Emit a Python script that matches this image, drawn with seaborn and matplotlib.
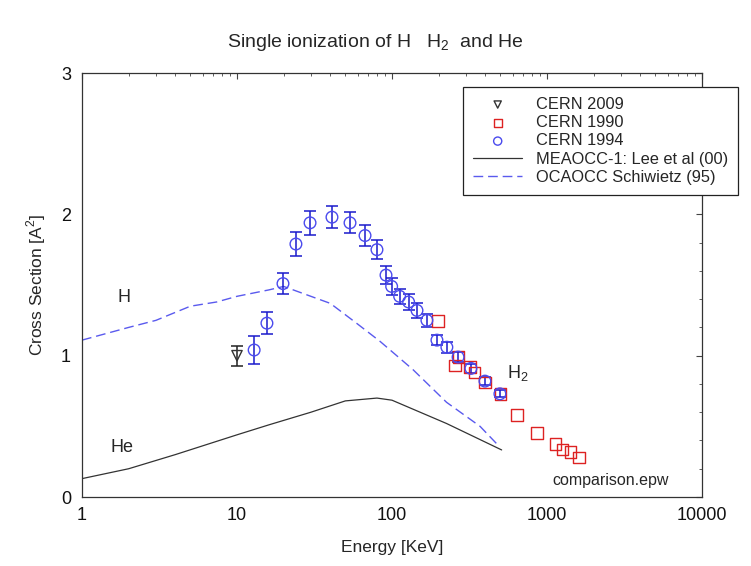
import numpy as np
import pandas as pd
import matplotlib
matplotlib.use("Agg")
import matplotlib.pyplot as plt
import seaborn as sns

# ---- data ----
cern2009_E = [10.0]
cern2009_s = [1.00]
cern2009_err = [0.07]

cern1990_E = [199, 255, 268, 319, 340, 400, 502, 643, 865, 1132, 1262, 1421, 1616]
cern1990_s = [1.245, 0.93, 0.99, 0.918, 0.88, 0.81, 0.73, 0.58, 0.455, 0.375, 0.337, 0.32, 0.28]

cern1994_E = [12.9, 15.6, 19.8, 24.0, 29.6, 41.0, 53.6, 67, 80, 91.5, 99.5, 112, 128, 145, 168, 195, 226, 267, 323, 398, 497]
cern1994_s = [1.04, 1.23, 1.51, 1.79, 1.94, 1.98, 1.94, 1.85, 1.75, 1.57, 1.49, 1.42, 1.38, 1.32, 1.25, 1.11, 1.06, 0.99, 0.91, 0.82, 0.73]
cern1994_err = [0.10, 0.08, 0.077, 0.083, 0.083, 0.078, 0.075, 0.073, 0.068, 0.061, 0.06, 0.055,
                0.054, 0.05, 0.047, 0.038, 0.039, 0.038, 0.032, 0.027, 0.025]

lee_E = [1, 2, 4, 10, 16, 30, 50, 80, 100, 225, 510]
lee_s = [0.13, 0.20, 0.30, 0.44, 0.51, 0.60, 0.68, 0.70, 0.685, 0.52, 0.333]

schiw_E = [1, 2, 3, 5, 7.4, 10, 16, 20, 40, 59, 84, 137, 225, 370, 490]
schiw_s = [1.11, 1.20, 1.25, 1.35, 1.38, 1.42, 1.465, 1.49, 1.37, 1.23, 1.10, 0.90, 0.67, 0.50, 0.36]

x_ticks = [1, 10, 100, 1000, 10000]
x_ticklabels = ["1", "10", "100", "1000", "10000"]
y_ticks = [0, 1, 2, 3]

sns.set_style("white")
plt.rcParams['font.family'] = ['Liberation Sans', 'DejaVu Sans']
plt.rcParams['mathtext.fontset'] = 'custom'
plt.rcParams['mathtext.rm'] = 'Liberation Sans'

fig = plt.figure(figsize=(7.51, 5.66), dpi=100)
ax = fig.add_axes([0.1092, 0.1219, 0.8255, 0.7491])

df_lee = pd.DataFrame({"E": lee_E, "s": lee_s})
df_sch = pd.DataFrame({"E": schiw_E, "s": schiw_s})
sns.lineplot(data=df_lee, x="E", y="s", ax=ax, color="#333333", lw=0.9, sort=False,
             label="MEAOCC-1: Lee et al (00)", legend=False)
sns.lineplot(data=df_sch, x="E", y="s", ax=ax, color="#5a5aee", lw=1.0, sort=False,
             dashes=False, label="OCAOCC Schiwietz (95)", legend=False)
ax.lines[-1].set_dashes([7, 3.5])

ax.errorbar(cern2009_E, cern2009_s, yerr=cern2009_err, fmt="none", ecolor="#222222",
            elinewidth=1.1, capsize=4, capthick=1.1, zorder=3)
ax.errorbar(cern1994_E, cern1994_s, yerr=cern1994_err, fmt="none", ecolor="#1a1acc",
            elinewidth=1.1, capsize=4, capthick=1.1, zorder=3)

df09 = pd.DataFrame({"E": cern2009_E, "s": cern2009_s})
df90 = pd.DataFrame({"E": cern1990_E, "s": cern1990_s})
df94 = pd.DataFrame({"E": cern1994_E, "s": cern1994_s})
sns.scatterplot(data=df09, x="E", y="s", ax=ax, marker="v", s=55, facecolor="none",
                edgecolor="#333333", linewidth=1.0, zorder=4, label="CERN 2009", legend=False)
sns.scatterplot(data=df90, x="E", y="s", ax=ax, marker="s", s=70, facecolor="none",
                edgecolor="#dd2222", linewidth=1.0, zorder=4, label="CERN 1990", legend=False)
sns.scatterplot(data=df94, x="E", y="s", ax=ax, marker="o", s=70, facecolor="none",
                edgecolor="#4a4aee", linewidth=1.0, zorder=5, label="CERN 1994", legend=False)

ax.set_xscale("log")
ax.set_xlim(1, 10000)
ax.set_ylim(0, 3)
ax.set_xticks(x_ticks)
ax.set_xticklabels(x_ticklabels)
ax.set_yticks(y_ticks)
ax.yaxis.set_minor_locator(matplotlib.ticker.MultipleLocator(0.2))
ax.xaxis.set_minor_locator(matplotlib.ticker.LogLocator(base=10, subs=np.arange(2, 10)))
ax.xaxis.set_minor_formatter(matplotlib.ticker.NullFormatter())
ax.tick_params(which="both", direction="in", top=True, right=True, colors="#444444",
               labelcolor="#111111", labelsize=13)
ax.tick_params(axis="x", which="major", pad=7)
ax.tick_params(axis="y", which="major", pad=8)
ax.tick_params(which="major", length=4, width=0.8)
ax.tick_params(which="minor", length=2.5, width=0.6)
for sp in ax.spines.values():
    sp.set_color("#333333")
    sp.set_linewidth(0.9)

ax.set_xlabel("Energy [KeV]", fontsize=12.5, labelpad=12)
ax.set_ylabel("Cross Section [A$^2$]", fontsize=12.5, labelpad=9)
fig.text(0.5, 0.925, "Single ionization of H   H$_2$  and He", ha="center", va="center",
         fontsize=14)

ax.text(1.87, 1.41, "H", fontsize=13, ha="center", va="center")
ax.text(1.81, 0.35, "He", fontsize=13, ha="center", va="center")
ax.text(650, 0.88, "H$_2$", fontsize=13, ha="center", va="center")
ax.text(2590, 0.12, "comparison.epw", fontsize=11.5, ha="center", va="center")

h, l = ax.get_legend_handles_labels()
order = ["CERN 2009", "CERN 1990", "CERN 1994", "MEAOCC-1: Lee et al (00)", "OCAOCC Schiwietz (95)"]
hd = dict(zip(l, h))
leg = ax.legend([hd[k] for k in order], order, loc="upper left",
                bbox_to_anchor=(0.615, 0.967), fontsize=11.8, frameon=True, fancybox=False,
                handlelength=3.0, labelspacing=0.2, borderpad=0.6, handletextpad=0.85,
                borderaxespad=0, markerscale=0.7)
leg.get_frame().set_edgecolor("#222222")
leg.get_frame().set_linewidth(0.9)
leg.get_frame().set_alpha(1)

fig.savefig("out.png", dpi=100)
